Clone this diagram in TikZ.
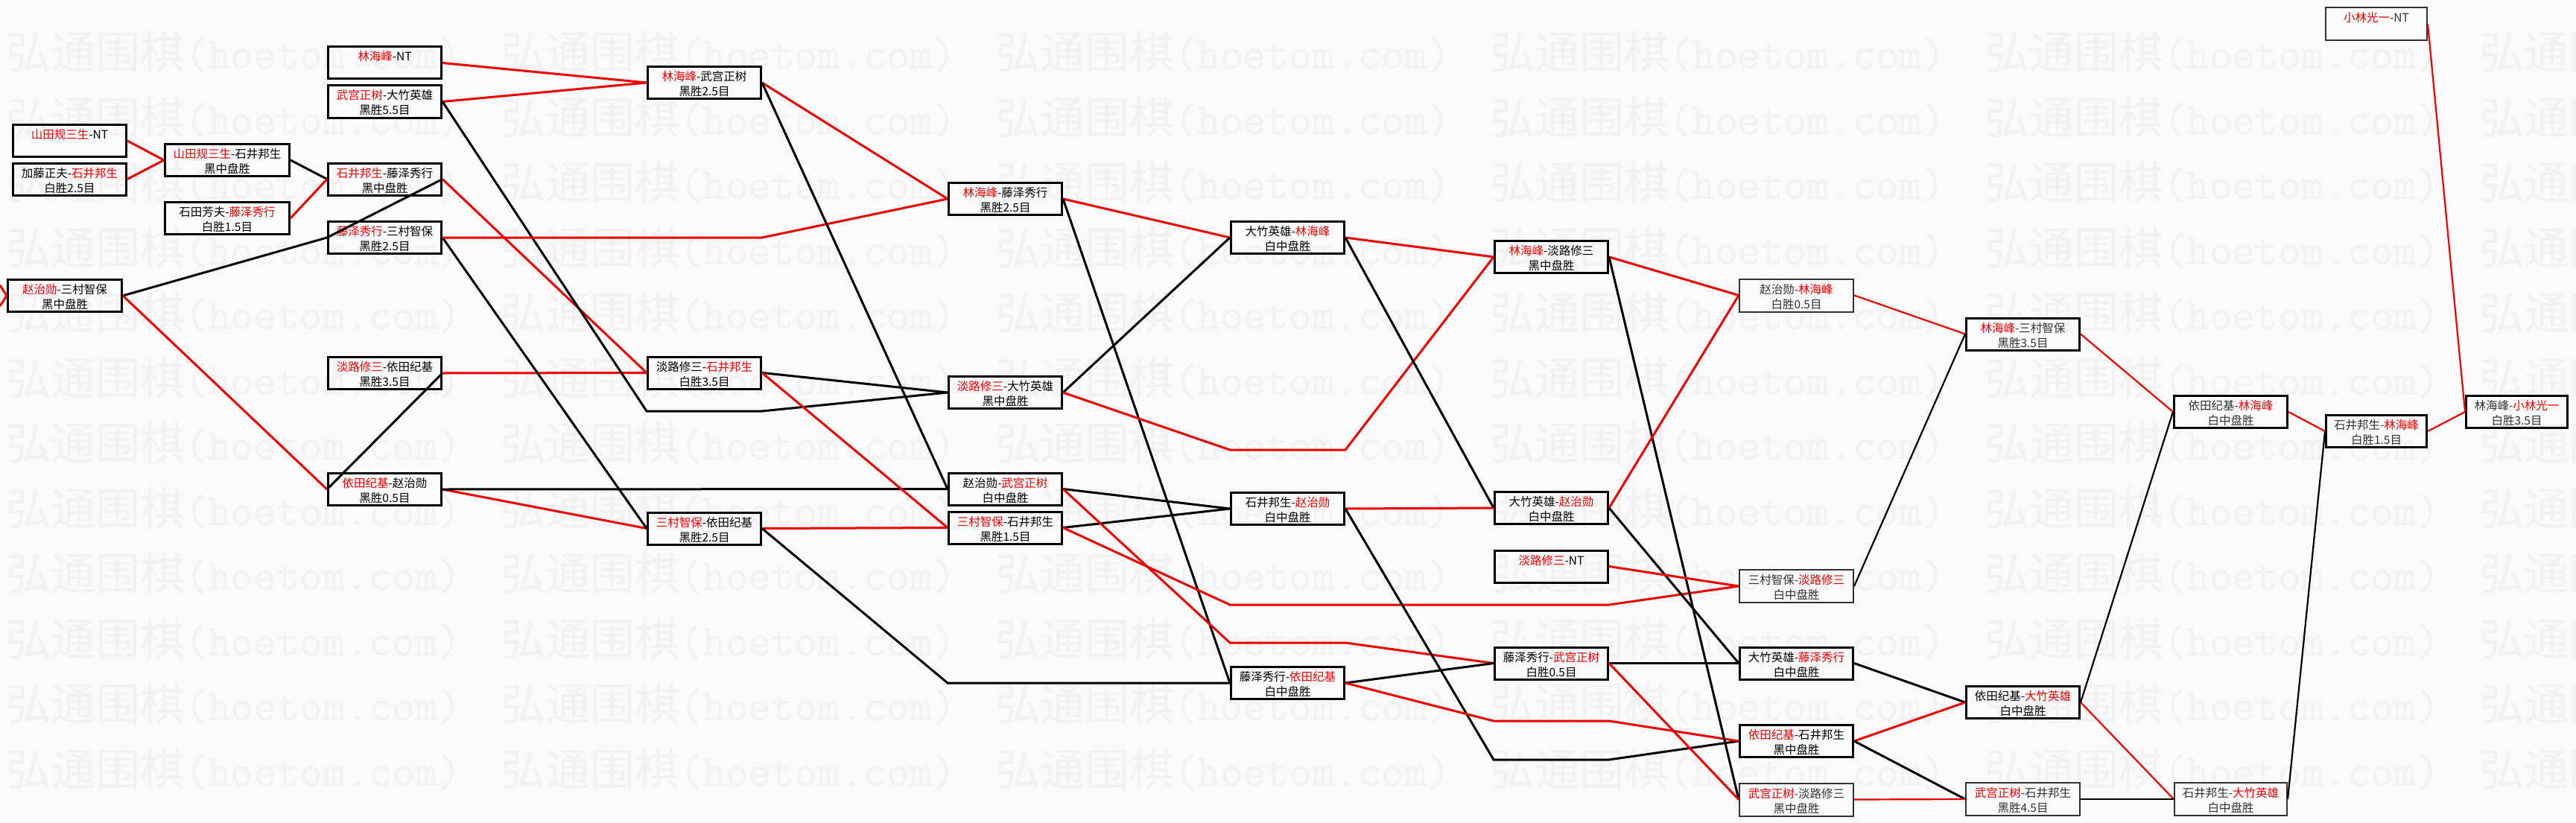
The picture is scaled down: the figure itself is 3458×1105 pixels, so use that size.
\documentclass[tikz,border=0pt]{standalone}
\usepackage{fontspec}
\newfontfamily\cjk{Noto Sans CJK SC}
\definecolor{wred}{RGB}{236,0,0}
\definecolor{bgc}{RGB}{250,250,250}
\definecolor{wmc}{RGB}{242,242,242}
\definecolor{tgray}{RGB}{50,50,50}
\newcommand\R[1]{\textcolor{wred}{#1}}
\newcommand\two[2]{\parbox[c][43pt][t]{120pt}{\vspace*{5pt}\makebox[120pt]{\strut#1}\par\makebox[120pt]{\strut#2}}}
\newcommand\wmtext{{\cjk\fontsize{60}{60}\selectfont 弘通围棋}{\ttfamily\fontsize{60}{60}\selectfont (hoetom.com)}}
\tikzset{
  mbox/.style={draw=black, line width=3pt, minimum width=152pt, minimum height=43pt, inner sep=0pt, font=\cjk\fontsize{15.5}{20}\selectfont, text=black},
  gbox/.style={mbox, text=tgray},
  tbox/.style={draw=tgray, line width=2pt, minimum width=153pt, minimum height=44pt, inner sep=0pt, font=\cjk\fontsize{15.5}{20}\selectfont, text=tgray},
  win/.style={draw=wred, line width=3pt},
  lose/.style={draw=black, line width=3pt},
  twin/.style={draw=wred, line width=2.2pt},
  tlose/.style={draw=black, line width=2.2pt},
  wmark/.style={anchor=west, text=wmc, inner sep=0pt},
}
\begin{document}
\begin{tikzpicture}[x=1pt,y=-1pt]
\useasboundingbox (0,0) rectangle (3458,1105);
\fill[bgc] (0,0) rectangle (3458,1105);
\begin{scope}
\clip (0,0) rectangle (3458,1105);
\foreach \j in {0,...,11}{
  \foreach \k in {0,...,5}{
    \node[wmark] (wm\j-\k) at ({8+664*\k},{70+87.5*\j}) {\wmtext};
  }
}
\end{scope}

% boxes
\node[mbox] (A1) at (93.5,189) {\two{\R{山田规三生}-NT}{}};
\node[mbox] (A2) at (93.5,240.5) {\two{加藤正夫-\R{石井邦生}}{白胜2.5目}};
\node[mbox,minimum width=153pt] (A3) at (87,397) {\two{\R{赵治勋}-三村智保}{黑中盘胜}};
\node[mbox,minimum width=167pt] (B1) at (305,215) {\two{\R{山田规三生}-石井邦生}{黑中盘胜}};
\node[mbox,minimum width=167pt] (B2) at (305,293) {\two{石田芳夫-\R{藤泽秀行}}{白胜1.5目}};
\node[mbox] (C1) at (516.5,84.5) {\two{\R{林海峰}-NT}{}};
\node[mbox] (C2) at (516.5,136.5) {\two{\R{武宫正树}-大竹英雄}{黑胜5.5目}};
\node[mbox] (C3) at (516.5,240.5) {\two{\R{石井邦生}-藤泽秀行}{黑中盘胜}};
\node[mbox] (C4) at (516.5,319) {\two{\R{藤泽秀行}-三村智保}{黑胜2.5目}};
\node[mbox] (C5) at (516.5,501) {\two{\R{淡路修三}-依田纪基}{黑胜3.5目}};
\node[mbox] (C6) at (516.5,657) {\two{\R{依田纪基}-赵治勋}{黑胜0.5目}};
\node[mbox] (D1) at (945.5,111) {\two{\R{林海峰}-武宫正树}{黑胜2.5目}};
\node[mbox] (D2) at (945.5,500.5) {\two{淡路修三-\R{石井邦生}}{白胜3.5目}};
\node[mbox] (D3) at (945.5,709.5) {\two{\R{三村智保}-依田纪基}{黑胜2.5目}};
\node[mbox] (E1) at (1349.5,267) {\two{\R{林海峰}-藤泽秀行}{黑胜2.5目}};
\node[mbox] (E2) at (1349.5,527) {\two{\R{淡路修三}-大竹英雄}{黑中盘胜}};
\node[mbox] (E3) at (1349.5,656.5) {\two{赵治勋-\R{武宫正树}}{白中盘胜}};
\node[mbox] (E4) at (1349.5,708.5) {\two{\R{三村智保}-石井邦生}{黑胜1.5目}};
\node[mbox] (F1) at (1728.5,319) {\two{大竹英雄-\R{林海峰}}{白中盘胜}};
\node[mbox] (F2) at (1728.5,683) {\two{石井邦生-\R{赵治勋}}{白中盘胜}};
\node[mbox] (F3) at (1728.5,917) {\two{藤泽秀行-\R{依田纪基}}{白中盘胜}};
\node[mbox] (G1) at (2082.5,345) {\two{\R{林海峰}-淡路修三}{黑中盘胜}};
\node[mbox] (G2) at (2082.5,682) {\two{大竹英雄-\R{赵治勋}}{白中盘胜}};
\node[mbox] (G3) at (2082.5,760.5) {\two{\R{淡路修三}-NT}{}};
\node[mbox] (G4) at (2082.5,890.5) {\two{藤泽秀行-\R{武宫正树}}{白胜0.5目}};
\node[tbox] (H1) at (2411.5,396.5) {\two{赵治勋-\R{林海峰}}{白胜0.5目}};
\node[tbox] (H2) at (2411.5,787) {\two{三村智保-\R{淡路修三}}{白中盘胜}};
\node[mbox] (H3) at (2411.5,890.5) {\two{大竹英雄-\R{藤泽秀行}}{白中盘胜}};
\node[mbox] (H4) at (2411.5,995) {\two{\R{依田纪基}-石井邦生}{黑中盘胜}};
\node[tbox] (H5) at (2411.5,1073.5) {\two{\R{武宫正树}-淡路修三}{黑中盘胜}};
\node[gbox] (I1) at (2715.5,448.5) {\two{\R{林海峰}-三村智保}{黑胜3.5目}};
\node[mbox] (I2) at (2715.5,943) {\two{依田纪基-\R{大竹英雄}}{白中盘胜}};
\node[tbox] (I3) at (2715.5,1073) {\two{\R{武宫正树}-石井邦生}{黑胜4.5目}};
\node[gbox] (J1) at (2994.5,553) {\two{依田纪基-\R{林海峰}}{白中盘胜}};
\node[tbox,minimum width=151pt] (J2) at (2994.5,1073) {\two{石井邦生-\R{大竹英雄}}{白中盘胜}};
\node[tbox,minimum width=136pt] (K0) at (3190,32.5) {\two{\R{小林光一}-NT}{}};
\node[gbox,minimum width=135pt] (K1) at (3190,579) {\two{石井邦生-\R{林海峰}}{白胜1.5目}};
\node[gbox,minimum width=136pt] (L1) at (3378.5,553) {\two{林海峰-\R{小林光一}}{白胜3.5目}};

% bend points
\coordinate (lin1) at (0,383);
\coordinate (lin2) at (0,411);
\coordinate (p1) at (868,552);
\coordinate (p2) at (1023,552);
\coordinate (p3) at (1023,319);
\coordinate (p4) at (1272,917);
\coordinate (p5) at (1651,604);
\coordinate (p6) at (1806,604);
\coordinate (p7) at (1651,863);
\coordinate (p8) at (1806,863);
\coordinate (p9) at (1651,812);
\coordinate (p10) at (2160,812);
\coordinate (p11) at (2005,1020);
\coordinate (p12) at (2160,1020);
\coordinate (p13) at (2005,968);
\coordinate (p14) at (2160,968);

% connectors
\draw[win] (lin1) -- (A3.west);
\draw[win] (lin2) -- (A3.west);
\draw[win] (A1.east) -- (B1.west);
\draw[win] (A2.east) -- (B1.west);
\draw[lose] (B1.east) -- (C3.west);
\draw[win] (B2.east) -- (C3.west);
\draw[lose] (A3.east) -- (C4.west);
\draw[win] (A3.east) -- (C6.west);
\draw[lose] (C3.east) -- (C4.west);
\draw[lose] (C5.east) -- (C6.west);
\draw[win] (C1.east) -- (D1.west);
\draw[win] (C2.east) -- (D1.west);
\draw[win] (C3.east) -- (D2.west);
\draw[win] (C5.east) -- (D2.west);
\draw[win] (C6.east) -- (D3.west);
\draw[lose] (C4.east) -- (D3.west);
\draw[lose] (C2.east) -- (p1) -- (p2) -- (E2.west);
\draw[win] (C4.east) -- (p3) -- (E1.west);
\draw[lose] (C6.east) -- (E3.west);
\draw[win] (D1.east) -- (E1.west);
\draw[lose] (D1.east) -- (E3.west);
\draw[lose] (D2.east) -- (E2.west);
\draw[win] (D2.east) -- (E4.west);
\draw[win] (D3.east) -- (E4.west);
\draw[lose] (D3.east) -- (p4) -- (F3.west);
\draw[win] (E1.east) -- (F1.west);
\draw[lose] (E1.east) -- (F3.west);
\draw[lose] (E2.east) -- (F1.west);
\draw[win] (E2.east) -- (p5) -- (p6) -- (G1.west);
\draw[lose] (E3.east) -- (F2.west);
\draw[lose] (E4.east) -- (F2.west);
\draw[win] (E3.east) -- (p7) -- (p8) -- (G4.west);
\draw[win] (E4.east) -- (p9) -- (p10) -- (H2.west);
\draw[win] (F1.east) -- (G1.west);
\draw[lose] (F1.east) -- (G2.west);
\draw[win] (F2.east) -- (G2.west);
\draw[lose] (F2.east) -- (p11) -- (p12) -- (H4.west);
\draw[lose] (F3.east) -- (G4.west);
\draw[win] (F3.east) -- (p13) -- (p14) -- (H4.west);
\draw[win] (G1.east) -- (H1.west);
\draw[lose] (G1.east) -- (H5.west);
\draw[win] (G2.east) -- (H1.west);
\draw[lose] (G2.east) -- (H3.west);
\draw[win] (G3.east) -- (H2.west);
\draw[lose] (G4.east) -- (H3.west);
\draw[win] (G4.east) -- (H5.west);
\draw[twin] (H1.east) -- (I1.west);
\draw[tlose] (H2.east) -- (I1.west);
\draw[lose] (H3.east) -- (I2.west);
\draw[win] (H4.east) -- (I2.west);
\draw[lose] (H4.east) -- (I3.west);
\draw[twin] (H5.east) -- (I3.west);
\draw[twin] (I1.east) -- (J1.west);
\draw[tlose] (I2.east) -- (J1.west);
\draw[twin] (I2.east) -- (J2.west);
\draw[tlose] (I3.east) -- (J2.west);
\draw[twin] (J1.east) -- (K1.west);
\draw[tlose] (J2.east) -- (K1.west);
\draw[twin] (K1.east) -- (L1.west);
\draw[twin] (K0.east) -- (L1.west);
\end{tikzpicture}
\end{document}
